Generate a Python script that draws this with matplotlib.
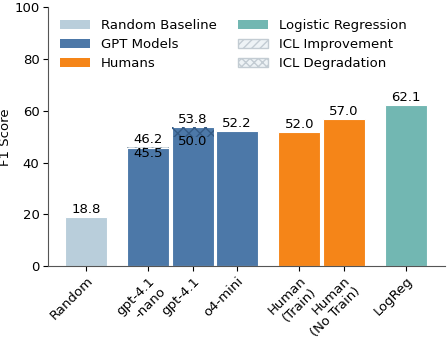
import matplotlib
matplotlib.use("Agg")
import matplotlib.pyplot as plt
from matplotlib.patches import Patch

# data
labels = ["Random", "gpt-4.1\n-nano", "gpt-4.1", "o4-mini", "Human\n(Train)", "Human\n(No Train)", "LogReg"]
positions = [0, 1.4, 2.4, 3.4, 4.8, 5.8, 7.2]
base_scores = [18.8, 45.5, 53.8, 52.2, 52.0, 57.0, 62.1]
groups = ["random", "gpt", "gpt", "gpt", "human", "human", "logreg"]
# ICL results for the gpt models (index -> score with ICL)
icl_scores = {1: 46.2, 2: 50.0}

colors = {"random": "#b9cedb", "gpt": "#4c78a8", "human": "#f58518", "logreg": "#72b7b2"}
legend_names = {"random": "Random Baseline", "gpt": "GPT Models", "human": "Humans", "logreg": "Logistic Regression"}

fs = 9.5
fig = plt.figure(figsize=(4.48, 3.39), dpi=100)
ax = fig.add_axes([0.107, 0.215, 0.886, 0.763])

width = 0.94
for i, (x, v, g) in enumerate(zip(positions, base_scores, groups)):
    ax.bar(x, v, width=width, color=colors[g], edgecolor="white", linewidth=0.8)
    if i in icl_scores:
        icl = icl_scores[i]
        lo, hi = min(v, icl), max(v, icl)
        if icl > v:
            ax.bar(x, hi - lo, bottom=lo, width=width, facecolor="#d5dde3",
                   edgecolor="#9aa9b5", hatch="////", linewidth=0)
        else:
            ax.bar(x, hi - lo, bottom=lo, width=width, facecolor="none",
                   edgecolor="#355b85", hatch="xxx", linewidth=0)
        ax.text(x, hi + 0.4, f"{hi:.1f}", ha="center", va="bottom", fontsize=fs)
        ax.text(x, lo + 0.6, f"{lo:.1f}", ha="center", va="top", fontsize=fs)
    else:
        ax.text(x, v + 0.4, f"{v:.1f}", ha="center", va="bottom", fontsize=fs)

ax.set_ylim(0, 100)
ax.set_xlim(-0.86, 8.08)
ax.set_yticks([0, 20, 40, 60, 80, 100])
ax.set_xticks(positions)
ax.set_xticklabels(labels, rotation=45, ha="right", rotation_mode="anchor")
ax.tick_params(labelsize=fs, pad=2.5)
ax.set_ylabel("F1 Score", fontsize=fs, labelpad=2)
ax.spines["top"].set_visible(False)
ax.spines["right"].set_visible(False)
for s in ["left", "bottom"]:
    ax.spines[s].set_color("#555555")

handles = [Patch(facecolor=colors[k], label=legend_names[k]) for k in ["random", "gpt", "human", "logreg"]]
handles.append(Patch(facecolor="#eef3f6", edgecolor="#c3ccd3", hatch="////", label="ICL Improvement"))
handles.append(Patch(facecolor="#eef3f6", edgecolor="#c3ccd3", hatch="xxxx", label="ICL Degradation"))
ax.legend(handles=handles, ncol=2, loc="upper left", frameon=False, fontsize=fs,
          bbox_to_anchor=(0.0, 1.0), columnspacing=1.6, handlelength=2.3,
          labelspacing=0.45)

fig.savefig("out.png", dpi=100)
